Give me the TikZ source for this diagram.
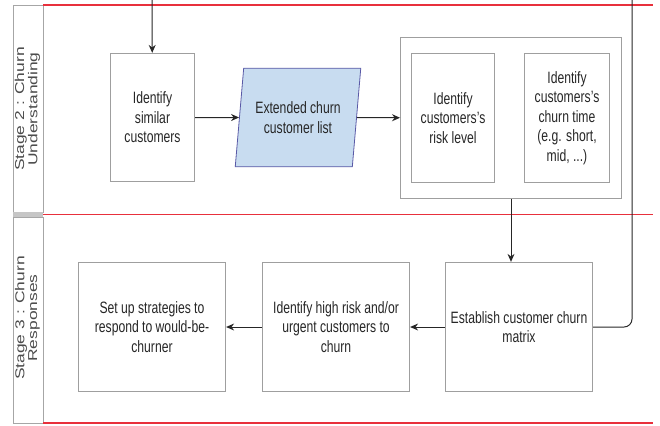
\documentclass[tikz,border=0pt]{standalone}
\usepackage{graphicx}
\usepackage{fontspec}
\setmainfont{Liberation Sans}[FakeStretch=0.74]
\newfontfamily\lanefont{Liberation Sans}
\usetikzlibrary{arrows.meta, shapes.geometric}

\definecolor{laneRed}{RGB}{232,48,60}
\definecolor{listBlue}{RGB}{200,220,240}

\tikzset{
  stepbox/.style={draw=gray!75, line width=0.8pt, align=center, text=black!85,
    font=\fontsize{16.5}{19.5}\selectfont},
  flow/.style={->, line width=1pt, draw=black!85},
  lane/.style={draw=laneRed, line width=1.1pt},
  lanehead/.style={draw=gray!70, line width=1pt},
}

\begin{document}
\begin{tikzpicture} [x=1bp, y=-1bp, >={Stealth[length=8pt, width=7pt]}]
\useasboundingbox (0,0) rectangle (660,425);

% swim lanes
\draw[lanehead] (13,5) rectangle (43,212);
\draw[lanehead] (13,217) rectangle (43,423);
\fill[gray!45] (13,212) rectangle (43,217);
\draw[lane] (43,5) -- (653,5);
\draw[lane] (43,214.5) -- (653,214.5);
\draw[lane] (43,423) -- (653,423);

\path (28,109) node[rotate=90, text=black!70] (s2) {\scalebox{1}[0.74]{\lanefont\fontsize{17.5}{17.5}\selectfont
        \begin{tabular}{@{}c@{}}Stage 2 : Churn\\Understanding\end{tabular}}}
      (28,318) node[rotate=90, text=black!70] (s3) {\scalebox{1}[0.74]{\lanefont\fontsize{17.5}{17.5}\selectfont
        \begin{tabular}{@{}c@{}}Stage 3 : Churn\\Responses\end{tabular}}};

% stage 2
\coordinate (in) at (152,0);
\coordinate (out) at (632,0);

\path (152.5,117.5) node[stepbox, minimum width=85, minimum height=129] (sim) {Identify\\similar\\customers}
      (298,117.5) node[stepbox, trapezium, trapezium left angle=77.5, trapezium right angle=102.5,
          trapezium stretches body, draw=gray!70!blue, fill=listBlue, minimum width=126, minimum height=99] (list)
          {Extended churn\\customer list}
      (511,118) node[draw=gray!75, line width=0.8pt, minimum width=222, minimum height=162] (grp) {}
      (453,118) node[stepbox, minimum width=84, minimum height=130] (risk) {Identify\\customers's\\risk level}
      (567,118) node[stepbox, minimum width=86, minimum height=130] (time)
          {Identify\\customers's\\churn time\\(e.g. short,\\mid, ...)};

% stage 3
\path (519,327) node[stepbox, minimum width=148, minimum height=130] (est) {Establish customer churn\\matrix}
      (336,327) node[stepbox, minimum width=148, minimum height=130] (high)
          {Identify high risk and/or\\urgent customers to\\churn}
      (152,327) node[stepbox, minimum width=148, minimum height=130] (plan)
          {Set up strategies to\\respond to would-be-\\churner};

\draw[flow] (in) -- (sim);
\draw[flow] (sim) -- (list);
\draw[flow] (list) -- (grp);
\draw[flow] (grp.south -| 511,0) -- (est.north -| 511,0);
\draw[flow] (est) -- (high);
\draw[flow] (high) -- (plan);
\draw[line width=1pt, draw=black!85, rounded corners=8] (est.east) -| (out);
\end{tikzpicture}
\end{document}
